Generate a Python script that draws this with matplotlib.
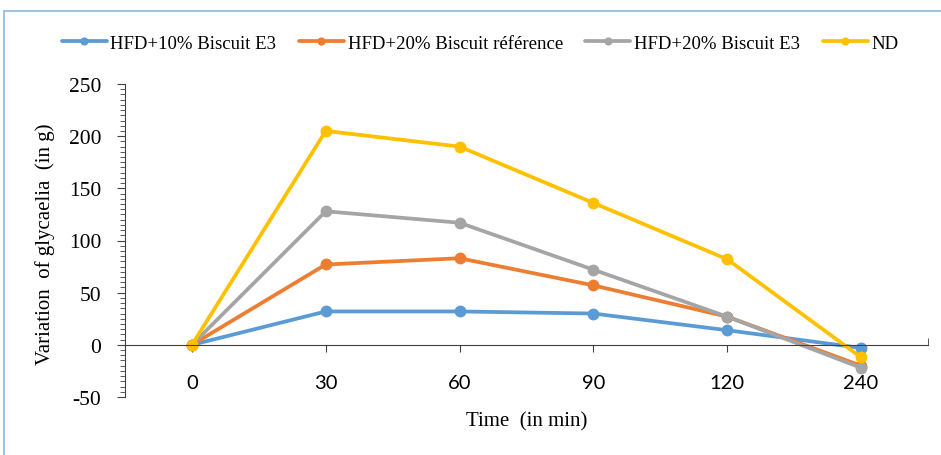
import numpy as np
import matplotlib
matplotlib.use('Agg')
import matplotlib.pyplot as plt
from matplotlib.patches import Rectangle
from matplotlib.ticker import MultipleLocator

plt.rcParams['axes.unicode_minus'] = False

# Donnees
temps = ['0', '30', '60', '90', '120', '240']
hfd10_e3 = [0, 32, 32, 30, 14, -3]
hfd20_ref = [0, 77, 83, 57, 27, -20]
hfd20_e3 = [0, 128, 117, 72, 27, -22]
nd = [0, 205, 190, 136, 82, -12]

series = [
    ('HFD+10% Biscuit E3', hfd10_e3, '#5B9BD5'),
    ('HFD+20% Biscuit référence', hfd20_ref, '#ED7D31'),
    ('HFD+20% Biscuit E3', hfd20_e3, '#A5A5A5'),
    ('ND', nd, '#FFC000'),
]

serif = 'Liberation Serif'

fig = plt.figure(figsize=(9.41, 4.56), dpi=100)
ax = fig.add_axes([125 / 941, 1 - 398 / 456, 803 / 941, 313 / 456])

x = np.arange(len(temps))
for name, vals, col in series:
    ax.plot(x, vals, color=col, lw=2.7, marker='o', ms=7.5, label=name,
            solid_capstyle='round', clip_on=False)

ax.set_xlim(-0.5, len(temps) - 0.5)
ax.set_ylim(-50, 250)

# axes
ax.spines['top'].set_visible(False)
ax.spines['right'].set_visible(False)
ax.spines['bottom'].set_position(('data', 0))
ax.spines['bottom'].set_color('#404040')
ax.spines['left'].set_color('#404040')

ax.set_xticks(x)
ax.set_xticklabels(temps, fontfamily='Lato', fontsize=14.5)
ax.tick_params(axis='x', direction='out', length=5, pad=16, color='#404040')
ax.set_xticks([len(temps) - 0.5], minor=True)
ax.tick_params(axis='x', which='minor', direction='in', length=5, color='#404040')

ax.yaxis.set_major_locator(MultipleLocator(50))
ax.yaxis.set_minor_locator(MultipleLocator(5))
ax.tick_params(axis='y', which='major', direction='out', length=6, pad=11,
               color='#404040', labelsize=15.5)
ax.tick_params(axis='y', which='minor', direction='out', length=3.5, color='#404040')
for lab in ax.get_yticklabels():
    lab.set_fontfamily(serif)

fig.text(45 / 941, 1 - 244 / 456, 'Variation  of glycaelia  (in g)', rotation=90,
         ha='center', va='center', fontfamily=serif, fontsize=15)
fig.text(527 / 941, 1 - 422 / 456, 'Time  (in min)', ha='center', va='center',
         fontfamily=serif, fontsize=15)

fig.legend(loc='center', bbox_to_anchor=(480 / 941, 1 - 44 / 456), ncol=4,
           frameon=False, prop={'family': serif, 'size': 13.5},
           handlelength=2.4, handletextpad=0.2, columnspacing=1.2, markerscale=0.65)

# cadre bleu clair
fig.patches.append(Rectangle((4 / 941, -0.1), 1.1, 1 - 12 / 456 + 0.1,
                             transform=fig.transFigure, fill=False,
                             edgecolor='#9DC3E6', lw=1.5))

fig.savefig('out.png', dpi=100)
